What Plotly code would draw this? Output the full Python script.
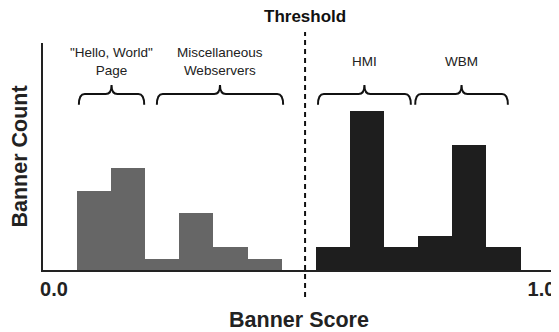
import plotly.graph_objects as go

# ---- data ----
bin_width = 0.07
gray_centers = [0.082, 0.152, 0.222, 0.292, 0.362, 0.432]
gray_counts = [7, 9, 1, 5, 2, 1]
black_centers = [0.572, 0.642, 0.712, 0.782, 0.852, 0.922]
black_counts = [2, 14, 2, 3, 11, 2]
threshold = 0.515
tick_vals = [0.0, 1.0]
tick_text = ["0.0", "1.0"]
brace_starts = [0.051, 0.211, 0.5415, 0.741]
brace_ends = [0.185, 0.470, 0.732, 0.931]
brace_labels = ['"Hello, World"<br>Page', "Miscellaneous<br>Webservers", "HMI", "WBM"]

FONT = "Liberation Sans, Arial, Helvetica, sans-serif"

fig = go.Figure()
fig.add_trace(go.Bar(x=gray_centers, y=gray_counts, width=bin_width,
                     marker=dict(color="#666666", line=dict(width=0)), showlegend=False))
fig.add_trace(go.Bar(x=black_centers, y=black_counts, width=bin_width,
                     marker=dict(color="#1e1e1e", line=dict(width=0)), showlegend=False))

# braces
y_end, y_mid, y_top = 14.55, 15.5, 16.3
r = 0.012
shapes = []
annotations = []
for x0, x1, lab in zip(brace_starts, brace_ends, brace_labels):
    xc = (x0 + x1) / 2
    path = (f"M {x0},{y_end} Q {x0},{y_mid} {x0 + r},{y_mid} "
            f"L {xc - r},{y_mid} Q {xc},{y_mid} {xc},{y_top} "
            f"Q {xc},{y_mid} {xc + r},{y_mid} "
            f"L {x1 - r},{y_mid} Q {x1},{y_mid} {x1},{y_end}")
    shapes.append(dict(type="path", path=path, xref="x", yref="y",
                       line=dict(color="#111111", width=2)))
    annotations.append(dict(x=xc, y=18.4, xref="x", yref="y", text=lab,
                            showarrow=False, xanchor="center", yanchor="middle",
                            font=dict(family=FONT, size=13.5, color="#222222")))

# threshold line
shapes.append(dict(type="line", x0=threshold, x1=threshold, xref="x",
                   y0=-0.119, y1=1.048, yref="paper",
                   line=dict(color="#111111", width=2, dash="5px,4px")))
annotations.append(dict(x=threshold, y=1.116, xref="x", yref="paper", text="<b>Threshold</b>",
                        showarrow=False, xanchor="center", yanchor="middle",
                        font=dict(family=FONT, size=17, color="#111111")))

# page body has an 8px margin, so the figure is sized to fit the remaining window
fig.update_layout(
    width=551, height=324,
    margin=dict(l=35, r=4, t=35, b=62, autoexpand=False),
    paper_bgcolor="white", plot_bgcolor="white",
    bargap=0, shapes=shapes, annotations=annotations,
    font=dict(family=FONT, color="#222222"),
    xaxis=dict(range=[-0.0226, 1.0277], tickvals=tick_vals, ticktext=[f"<b>{t}</b>" for t in tick_text],
               tickfont=dict(size=20, family=FONT, color="#222222"), automargin=False,
               showgrid=False, zeroline=False, showline=True, linecolor="#222222", linewidth=2,
               ticks="", ticklen=0,
               title=dict(text="<b>Banner Score</b>", font=dict(size=21.5, family=FONT, color="#222222"),
                          standoff=15)),
    yaxis=dict(range=[0, 20], showticklabels=False, showgrid=False, zeroline=False, automargin=False,
               showline=True, linecolor="#222222", linewidth=2, ticks="",
               title=dict(text="<b>Banner Count</b>", font=dict(size=21.5, family=FONT, color="#222222"),
                          standoff=10)),
)

fig.write_html("out.html")
